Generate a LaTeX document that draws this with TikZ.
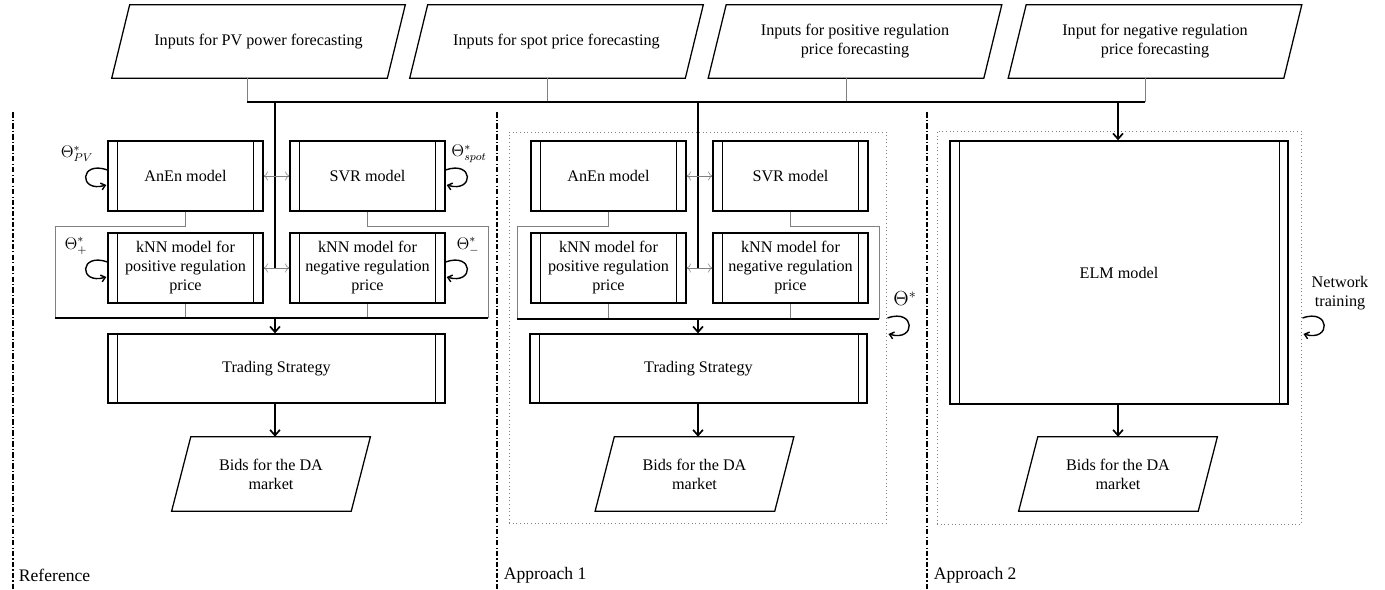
\documentclass[tikz,border=0pt]{standalone}
\usepackage{fontspec}
\setmainfont{Liberation Serif}
\usetikzlibrary{arrows.meta,calc,positioning}

\tikzset{
  model/.style = {draw, line width=0.9pt, minimum width=3.875cm, minimum height=1.75cm, align=center, inner sep=2pt,
    path picture={
      \draw[line width=0.5pt] ([xshift=0.23cm]path picture bounding box.north west) -- ([xshift=0.23cm]path picture bounding box.south west);
      \draw[line width=0.5pt] ([xshift=-0.23cm]path picture bounding box.north east) -- ([xshift=-0.23cm]path picture bounding box.south east);}},
  para/.style = {align=center, inner sep=1pt,
    append after command={\pgfextra{\draw[line width=0.9pt]
      ([xshift=-#1]\tikzlastnode.south west) -- ([xshift=#1]\tikzlastnode.north west) --
      ([xshift=#1]\tikzlastnode.north east) -- ([xshift=-#1]\tikzlastnode.south east) -- cycle;}}},
  inp/.style = {para=0.225cm, minimum width=6.875cm, minimum height=1.825cm},
  bids/.style = {para=0.24cm, minimum width=4.475cm, minimum height=1.85cm},
  frame/.style = {draw=gray, dotted, line width=0.6pt, inner sep=0pt},
  feed/.style = {draw=gray, line width=0.5pt},
  bus/.style = {line width=1.3pt},
  flow/.style = {line width=1.2pt, -{Straight Barb[length=4pt,width=7pt]}},
  link/.style = {draw=gray, line width=0.4pt, {To[length=3pt]}-{To[length=3pt]}},
  spin/.style = {line width=1pt, -{Straight Barb[length=3pt,width=5pt]}},
  divider/.style = {line width=1pt, dash pattern=on 4pt off 1.5pt on 0.8pt off 1.5pt},
  tag/.style = {anchor=west, font=\fontsize{12.5}{15}\selectfont}
}

\begin{document}
\begin{tikzpicture}[x=0.025cm, y=-0.025cm, font=\fontsize{11.5}{13.5}\selectfont]
\useasboundingbox (0,0) rectangle (1385,590);

% inputs
\node[inp] (inPV) at (258.5,41.5) {Inputs for PV power forecasting};
\node[inp] (inSpot) at (556.5,41.5) {Inputs for spot price forecasting};
\node[inp] (inPos) at (855,41.5) {Inputs for positive regulation\\price forecasting};
\node[inp] (inNeg) at (1155,41.5) {Input for negative regulation\\price forecasting};

\coordinate (bPV) at (247,102);
\coordinate (bSpot) at (547,102);
\coordinate (bPos) at (846,102);
\coordinate (bNeg) at (1145,102);
\draw[feed] (bPV |- inPV.south) -- (bPV);
\draw[feed] (bSpot |- inSpot.south) -- (bSpot);
\draw[feed] (bPos |- inPos.south) -- (bPos);
\draw[feed] (bNeg |- inNeg.south) -- (bNeg);
\draw[bus] (bPV) -- (bNeg);

% dividers
\draw[divider] (13,112) -- (13,590);
\draw[divider] (497,112) -- (497,590);
\draw[divider] (927,112) -- (927,590);
\node[tag] (labR) at (14,575) {Reference};
\node[tag] (labA) at (499,575) {Approach 1};
\node[tag] (labB) at (929,575) {Approach 2};

% reference
\node[model] (anenR) at (185.5,176) {AnEn model};
\node[model] (svrR) at (367.5,176) {SVR model};
\node[model] (knnpR) at (185.5,268) {kNN model for\\positive regulation\\price};
\node[model] (knnnR) at (367.5,268) {kNN model for\\negative regulation\\price};
\coordinate (jR) at (275,268);
\coordinate (oLR) at (55,318);
\coordinate (oRR) at (488,318);
\draw[bus] (jR |- bPV) -- (jR);
\draw[link] (anenR) -- (svrR);
\draw[link] (knnpR) -- (knnnR);
\draw[feed] (anenR.south) -- ++(0,15) -| (oLR);
\draw[feed] (svrR.south) -- ++(0,15) -| (oRR);
\draw[feed] (knnpR.south) -- (knnpR.south |- oLR);
\draw[feed] (knnnR.south) -- (knnnR.south |- oRR);
\draw[bus] (oLR) -- (oRR);
\node[model, minimum width=8.425cm, minimum height=1.725cm] (tradeR) at (276.5,368.5) {Trading Strategy};
\node[bids] (bidsR) at (271,474) {Bids for the DA\\market};
\draw[flow] (oLR -| jR) -- (tradeR.north -| jR);
\draw[flow] (tradeR.south -| jR) -- (bidsR.north -| jR);

\node (thPV) at (77,154) {$\Theta^*_{PV}$};
\node (thSpot) at (469,154) {$\Theta^*_{spot}$};
\node (thPos) at (76,246) {$\Theta^*_{+}$};
\node (thNeg) at (468,246) {$\Theta^*_{-}$};
\draw[spin] ($(anenR.west)+(0,-6)$) .. controls +(-28,-10) and +(-28,8) .. ($(anenR.west)+(-1,9)$);
\draw[spin] ($(knnpR.west)+(0,-6)$) .. controls +(-28,-10) and +(-28,8) .. ($(knnpR.west)+(-1,9)$);
\draw[spin] ($(svrR.east)+(0,-6)$) .. controls +(28,-10) and +(28,8) .. ($(svrR.east)+(1,9)$);
\draw[spin] ($(knnnR.east)+(0,-6)$) .. controls +(28,-10) and +(28,8) .. ($(knnnR.east)+(1,9)$);

% approach 1
\node[frame, minimum width=9.425cm, minimum height=9.775cm] (boxA) at (697.5,327.5) {};
\node[model] (anenA) at (608.5,176) {AnEn model};
\node[model] (svrA) at (790.5,176) {SVR model};
\node[model] (knnpA) at (608.5,268) {kNN model for\\positive regulation\\price};
\node[model] (knnnA) at (790.5,268) {kNN model for\\negative regulation\\price};
\coordinate (jA) at (698,268);
\coordinate (oLA) at (517,319);
\coordinate (oRA) at (879,319);
\draw[bus] (jA |- bPV) -- (jA);
\draw[link] (anenA) -- (svrA);
\draw[link] (knnpA) -- (knnnA);
\draw[feed] (anenA.south) -- ++(0,15) -| (oLA);
\draw[feed] (svrA.south) -- ++(0,15) -| (oRA);
\draw[feed] (knnpA.south) -- (knnpA.south |- oLA);
\draw[feed] (knnnA.south) -- (knnnA.south |- oRA);
\draw[bus] (oLA) -- (oRA);
\node[model, minimum width=8.425cm, minimum height=1.725cm] (tradeA) at (698.5,368.5) {Trading Strategy};
\node[bids] (bidsA) at (694.5,474) {Bids for the DA\\market};
\draw[flow] (oLA -| jA) -- (tradeA.north -| jA);
\draw[flow] (tradeA.south -| jA) -- (bidsA.north -| jA);
\node[font=\fontsize{14}{16}\selectfont] (thA) at (905,299) {$\Theta^*$};
\draw[spin] ($(boxA.east)+(1,-9.5)$) .. controls +(28,-10) and +(28,8) .. ($(boxA.east)+(2,6.5)$);

% approach 2
\node[frame, minimum width=9.1cm, minimum height=9.825cm] (boxB) at (1119,327.5) {};
\node[model, minimum width=8.45cm, minimum height=6.575cm] (elm) at (1119,272.5) {ELM model};
\node[bids] (bidsB) at (1118,474) {Bids for the DA\\market};
\coordinate (bELM) at (1118,102);
\draw[flow] (bELM) -- (elm.north -| bELM);
\draw[flow] (elm.south -| bELM) -- (bidsB.north -| bELM);
\node[align=center] (train) at (1340,293) {Network\\training};
\draw[spin] ($(boxB.east)+(1,-9.5)$) .. controls +(28,-10) and +(28,8) .. ($(boxB.east)+(2,6.5)$);
\end{tikzpicture}
\end{document}
